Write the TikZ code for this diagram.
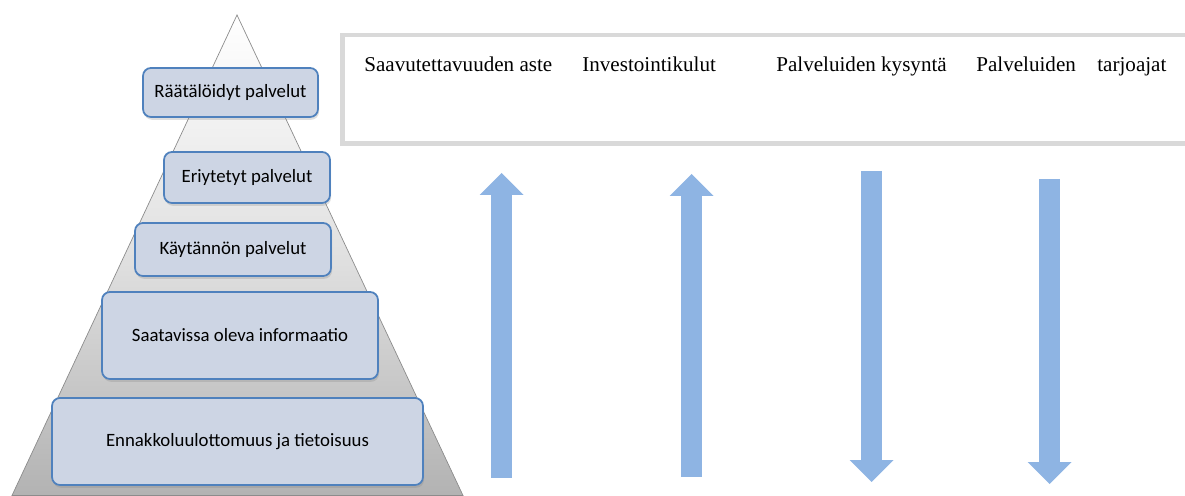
\documentclass[tikz,border=0pt]{standalone}
\usepackage{fontspec}
\setmainfont{Liberation Serif}
\newfontfamily\tierfont{Carlito}
\usetikzlibrary{arrows.meta, positioning, shadows}
\definecolor{tierBlue}{RGB}{79, 129, 189}
\definecolor{tierFill}{RGB}{205, 213, 228}
\definecolor{flowBlue}{RGB}{142, 180, 227}
\definecolor{frameGray}{RGB}{217, 217, 217}

\begin{document}
\begin{tikzpicture}[
      x=0.02cm, y=0.02cm,
      tier/.style={rectangle, draw=tierBlue, fill=tierFill, rounded corners=4.5pt, line width=1pt, align=center, font=\tierfont\fontsize{10.7}{12}\selectfont, drop shadow={opacity=0.25, shadow xshift=0.6pt, shadow yshift=-1.6pt}},
      factorframe/.style={rectangle, draw=frameGray, line width=0.09cm, minimum width=17.05cm, minimum height=2.17cm},
      factor/.style={font=\fontsize{12}{14}\selectfont, anchor=base west, inner sep=0pt},
      flow/.style={line width=0.42cm, color=flowBlue, -{Triangle[length=0.44cm, width=0.88cm, line width=0pt]}}
    ]
      \useasboundingbox (0,0) rectangle (1185,496);

      % Pyramid
      \coordinate (apex) at (237,481);
      \coordinate (baseL) at (12,0.5);
      \coordinate (baseR) at (463,0.5);
      \shadedraw[top color=white, bottom color=black!30, middle color=black!12, draw=black!45, line width=0.4pt] (apex) -- (baseR) -- (baseL) -- cycle;

      % Tiers of the pyramid
      \node[tier, minimum width=3.5cm, minimum height=0.98cm] (tailored) at (230.5,403.5) {Räätälöidyt palvelut};
      \node[tier, minimum width=3.32cm, minimum height=1.02cm] (differentiated) at (247,318.5) {Eriytetyt palvelut};
      \node[tier, minimum width=3.92cm, minimum height=1.06cm] (practical) at (233,246.5) {Käytännön palvelut};
      \node[tier, minimum width=5.52cm, minimum height=1.74cm] (information) at (240,160.5) {Saatavissa oleva informaatio};
      \node[tier, minimum width=7.42cm, minimum height=1.74cm] (openness) at (237.5,54.5) {Ennakkoluulottomuus ja tietoisuus};

      % Factor frame with headings
      \node[factorframe] (factors) at (768.75,406.75) {};
      \node[factor] (access) at (364,424) {Saavutettavuuden aste};
      \node[factor] (costs) at (582,424) {Investointikulut};
      \node[factor] (demand) at (776,424) {Palveluiden kysyntä};
      \node[factor] (providers) at (976,424) {Palveluiden};
      \node[factor] (providers2) at (1097,424) {tarjoajat};

      % Trend arrows
      \coordinate (accessLow) at (501.5,18);
      \coordinate (accessHigh) at (501.5,323);
      \coordinate (costsLow) at (691.5,19);
      \coordinate (costsHigh) at (691.5,322);
      \coordinate (demandHigh) at (871.5,325);
      \coordinate (demandLow) at (871.5,14);
      \coordinate (providersHigh) at (1049.5,317);
      \coordinate (providersLow) at (1049.5,12);

      \draw[flow] (accessLow) -- (accessHigh);
      \draw[flow] (costsLow) -- (costsHigh);
      \draw[flow] (demandHigh) -- (demandLow);
      \draw[flow] (providersHigh) -- (providersLow);
    \end{tikzpicture}
\end{document}
